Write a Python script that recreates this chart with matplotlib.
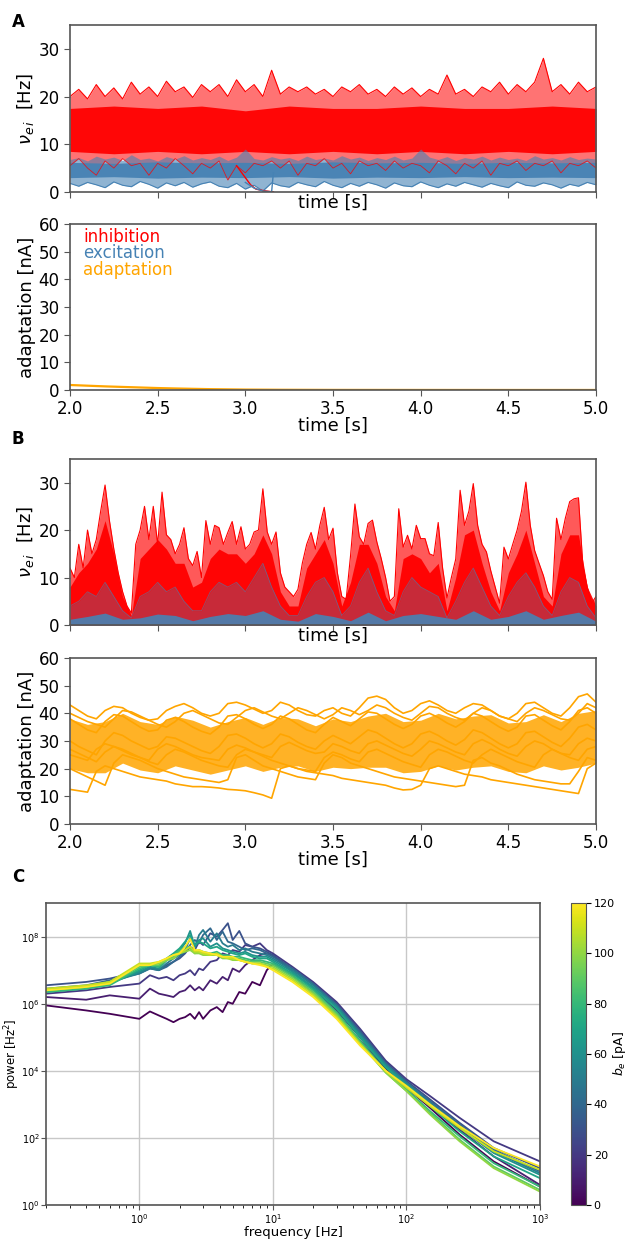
#!/usr/bin/env python
import numpy as np
import matplotlib
matplotlib.use('Agg')
import matplotlib.pyplot as plt
from matplotlib import cm, colors

plt.rcParams['font.family'] = ['DejaVu Sans']

RED = '#ff0000'
BLUE = '#4682b4'
ORANGE = '#ffa500'
SPINE = '#555555'

#---------------------------------- panel A, asynchronous state

tA = np.linspace(2.0, 5.0, 61)        # 0.05 s sampling
tA_q = np.linspace(2.0, 5.0, 13)      # 0.25 s sampling

a_red_max = [20, 21.5, 19.5, 22.5, 20, 21.8, 19.5, 23, 20.5, 22, 20, 23.2, 21, 22,
             19.8, 22.5, 21, 22.5, 20, 23.5, 21, 22.5, 20, 25.5, 20.5, 22, 21, 22,
             20.5, 21.5, 20, 22, 21, 22.5, 20.5, 21.5, 20, 22, 20.5, 21.8, 20, 21.5,
             20.5, 24.5, 20.5, 21.5, 20, 22, 21, 23, 20.5, 22.5, 21, 23, 28, 21, 22.5,
             20.5, 23, 21, 22]
a_red_min = [5.5, 7, 5, 3.5, 6.5, 5, 7, 5.5, 6, 3.5, 6, 5, 7, 5.5, 3.8, 6, 5, 6.5,
             2.5, 5.5, 4, 6, 5.5, 6.5, 5, 6.5, 3.5, 6, 5.5, 7, 5, 6, 3.8, 6.5, 5.5, 6,
             4.5, 6.5, 5, 6, 5.5, 4, 6.5, 5.5, 3.8, 6, 5, 6.5, 3.5, 6, 5.5, 6.5, 4.5,
             6, 5.5, 6.5, 4, 6, 5.5, 6.5, 5]
a_red_core_lo = [8.5, 8, 8.5, 8, 8.5, 8, 8.5, 8, 8.5, 8, 8.5, 8, 8.5]
a_red_core_hi = [17.5, 18, 17.5, 18, 17, 18, 17.5, 17.5, 18, 17.5, 17.5, 18, 17.5]

a_blue_max = [6.8, 7.2, 6.5, 7.5, 6.9, 7.3, 6.6, 7.8, 6.8, 7.1, 6.5, 7.4, 6.9, 7.6,
              6.7, 7.2, 6.8, 7.5, 6.6, 7.3, 9.0, 7.0, 6.7, 7.4, 6.9, 7.2, 6.6, 7.5,
              6.8, 7.1, 6.7, 7.6, 6.9, 7.3, 6.6, 7.2, 6.8, 7.5, 6.7, 7.1, 9.0, 7.3,
              6.8, 7.4, 6.6, 7.2, 6.9, 7.5, 6.7, 7.3, 6.8, 7.1, 6.6, 7.6, 6.9, 7.2,
              6.7, 7.4, 6.8, 7.1, 6.9]
a_blue_min = [1.8, 1.2, 2.0, 1.5, 0.9, 2.1, 1.4, 1.1, 2.2, 1.6, 0.8, 1.9, 1.3, 2.0,
              1.0, 1.7, 2.1, 1.2, 0.9, 1.8, 0.6, 1.4, 0.2, 1.9, 1.3, 1.0, 2.0, 1.5,
              1.1, 2.2, 1.4, 0.9, 1.8, 1.2, 2.0, 1.5, 0.8, 1.9, 1.3, 1.1, 2.1, 1.4,
              0.9, 1.7, 1.2, 2.0, 1.5, 1.0, 1.8, 1.3, 0.9, 2.1, 1.4, 1.2, 1.9, 1.5,
              0.8, 1.6, 1.2, 2.0, 1.5]
a_blue_core_lo = [3.0, 3.2, 2.9, 3.1, 3.0, 3.2, 2.9, 3.1, 3.0, 3.2, 3.0, 3.1, 3.0]
a_blue_core_hi = [6.2, 6.0, 6.3, 6.1, 6.2, 6.0, 6.3, 6.1, 6.2, 6.0, 6.2, 6.1, 6.2]

# the two traces that fall silent near t = 3.1 s
drop_red_t = [2.95, 3.00, 3.03, 3.06, 3.10, 3.14, 3.16]
drop_red_v = [5.5, 3.0, 1.5, 0.6, 0.3, 0.1, 0.0]
drop_blue_t = [3.00, 3.05, 3.10, 3.14, 3.15, 3.16]
drop_blue_v = [2.0, 0.8, 0.2, 0.05, 0.05, 4.0]

adapt_A_t = [2.0, 2.1, 2.2, 2.3, 2.4, 2.5, 2.6, 2.7, 2.8, 3.0, 3.2, 3.5, 4.0, 4.5, 5.0]
adapt_A_w = [1.8, 1.55, 1.3, 1.1, 0.9, 0.7, 0.55, 0.42, 0.3, 0.15, 0.08, 0.03, 0.01, 0, 0]

#---------------------------------- panel B, bursting state

tB_f = np.linspace(2.0, 5.0, 121)     # 0.025 s
tB_m = np.linspace(2.0, 5.0, 61)      # 0.05 s
tB_c = np.linspace(2.0, 5.0, 31)      # 0.1 s

b_red_max = [12, 10, 17, 12, 20, 15, 18, 24, 29.5, 22, 16, 11, 7, 4, 2.5, 17, 20, 25,
             18, 25, 17, 28, 19, 18, 15, 17, 20.5, 14, 12.5, 15.5, 10, 22, 17, 21,
             20.5, 17, 19.5, 21.8, 17, 20.7, 16, 17, 19.6, 20, 28.7, 19.6, 17, 19.6,
             11, 8, 7, 6, 7.5, 13, 17, 19.5, 16, 21, 24.8, 18, 20.4, 11, 6, 5.4, 14.6,
             25.5, 18.6, 17, 21.4, 22.1, 17.5, 14, 10, 5, 6, 24.5, 16.4, 18.9, 16, 21,
             18.2, 18.2, 15, 14.6, 21.6, 12, 5.7, 10, 13.9, 28.4, 21, 24, 29.8, 21, 17,
             15.4, 11.4, 8, 4.6, 16.4, 13.9, 17, 20, 24, 30.1, 21, 15.7, 13, 10.4, 7,
             5.4, 22.5, 18, 22.5, 26, 26.6, 26.8, 12.5, 8, 4.6, 6]
b_red_core = [8, 11, 13, 16, 22, 15, 6, 2, 14, 16, 18, 16, 13, 13, 8, 9, 14, 16, 15,
              15, 13, 15, 19, 15, 7, 4, 4, 12, 15, 18, 13, 4, 9, 17, 17, 13, 6, 3, 14,
              15, 14, 11, 13, 3, 10, 19, 20, 13, 7, 3, 11, 15, 20, 13, 6, 4, 15, 19, 19,
              8, 4]
b_blue_max = [4, 5, 7, 6, 9, 6, 3, 1.5, 6, 7, 9, 7, 8, 5, 3, 3, 7, 9, 8, 9, 7, 10, 13,
              8, 4, 2, 2, 6, 9, 10, 7, 2, 4, 9, 12, 7, 3, 2, 7, 10, 8, 7, 6, 1.5, 5, 9,
              12, 8, 4, 2, 6, 9, 11, 8, 4, 2, 7, 10, 9, 4, 1.5]
b_blue_core = [1.2, 1.8, 2.5, 1.2, 1.5, 2.3, 2.0, 0.9, 1.8, 2.4, 2.0, 3.0, 1.2, 0.8,
               2.4, 1.8, 0.9, 2.7, 0.9, 2.0, 2.4, 1.8, 1.2, 3.0, 1.2, 1.8, 3.0, 1.2,
               2.0, 2.7, 0.8]

adapt_B = {
    'top':  [43, 41, 39, 38, 41, 42.5, 42, 40, 38.5, 37.5, 38, 41, 42.5, 43.5, 42, 40,
             39, 40, 43.5, 44, 43, 41.5, 40, 41, 44, 43, 41, 39.5, 39, 41, 42, 40, 39,
             42, 45.5, 46.2, 45, 42, 40, 41, 43.5, 44.5, 43, 41, 40, 42, 43.5, 43, 41,
             39, 38, 40, 43.5, 44, 42, 40, 39, 42, 46, 47, 44],
    'upper2': [40, 38.5, 37, 36, 35, 38, 41, 40.5, 39, 37.5, 36, 35, 37, 40, 41, 39.5,
               38, 36.5, 36, 38.5, 41, 42, 40.5, 39, 38, 40, 42, 41, 39.5, 38, 39.5,
               42, 41, 39.5, 41, 43, 42, 40, 38.5, 37.5, 40, 42.5, 42, 40, 38.5, 37.5,
               40, 42, 41, 39, 38, 37, 40, 42, 41, 39.5, 38, 37.5, 40, 43.5, 42],
    'upper': [38, 36, 34, 33, 37, 39.5, 39, 37, 35, 33.5, 34, 37.5, 38.5, 37, 35, 33.5,
              32.5, 35, 39, 39.5, 38, 36, 34.5, 36, 39, 38, 36, 34, 33, 36, 38.5, 37,
              35.5, 38, 40.5, 40, 38, 36, 34.5, 36, 39, 40, 38.5, 36.5, 35, 37, 40, 39,
              37, 35, 33.5, 35, 39, 39.5, 37.5, 35.5, 34, 37, 41, 42, 40],
    'mid':  [30, 28, 26.5, 25, 30, 33, 32, 30, 28.5, 27, 28, 31.5, 31, 29.5, 28, 26.5,
             25.5, 28, 32, 32.5, 31, 29, 27.5, 29, 32.5, 31.5, 29.5, 28, 27, 30, 32,
             30.5, 29, 31.5, 34, 33, 31, 29, 27.5, 29, 32.5, 33.5, 32, 30, 28.5, 30.5,
             34, 33, 31, 29, 27.5, 29, 33, 33.5, 31.5, 29.5, 28, 31, 35, 36, 34],
    'shift': [25, 24, 23, 27, 29, 28, 26.5, 25, 24, 23, 27, 29, 28, 26.5, 25, 24, 23.5,
              23, 27, 28.5, 27.5, 26, 25, 24, 28, 29.5, 28, 26.5, 25.5, 26, 29, 28,
              26.5, 25.5, 29, 30, 28.5, 27, 25.5, 24.5, 27, 30, 29, 27.5, 26, 25, 29,
              30.5, 29, 27, 25.5, 24.5, 28, 30, 29, 27, 25.5, 25, 29, 31, 30],
    'low2': [27, 25.5, 24, 22.5, 26, 28, 27, 25.5, 24, 22.5, 21.5, 25, 27, 26, 24.5, 23,
             22, 21, 20.5, 25, 27, 26, 24.5, 23, 22, 21, 20, 19.5, 19, 24, 26, 25, 23.5,
             22.5, 26, 27, 25.5, 24, 22.5, 21.5, 20.5, 25, 27, 26, 24.5, 23, 22, 25, 27,
             25.5, 24, 22.5, 21.5, 20.5, 25, 27, 25.5, 24, 23, 27, 28],
    'low':  [20, 18.5, 17, 15.5, 14, 22, 25, 24, 23, 21.5, 20, 19, 18, 17, 16.5, 16,
             15.5, 15, 16, 24, 25, 23, 21, 20, 19, 18, 17, 16.5, 16, 22, 25, 24, 22,
             21, 20, 19, 18, 17, 16.5, 16, 15.5, 15, 14.5, 14, 13.5, 14, 23, 24, 22,
             21, 19.5, 18, 17, 16, 15.5, 15, 14.5, 14.5, 19, 24, 23],
    'bottom': [12.5, 12, 11.5, 19, 21, 20, 19, 18, 17, 16.5, 16, 15.5, 14.5, 14, 13.5,
               13.5, 13.3, 13, 12.5, 12.3, 12, 11.3, 10.5, 9.3, 20, 21, 20, 19, 18.5,
               18, 17.5, 16.5, 16, 15.5, 15, 14.5, 14, 13, 12.3, 12.5, 14, 20, 21, 20,
               19, 18, 17.5, 17, 16, 15.5, 15, 14.5, 14, 13.5, 13, 12.5, 12, 11.5, 11,
               20, 22],
}
adapt_B_core_lo = [20, 18.5, 18.5, 22, 19.5, 18.5, 21, 19.5, 18, 19.5, 21, 19, 20.5,
                   21, 19, 20.5, 20, 20.5, 20.5, 18.5, 19, 21, 19.5, 20.5, 21, 19, 18.5,
                   21, 19.5, 20.5, 22]
adapt_B_core_hi = [38, 36, 37, 40, 37, 36, 39, 37.5, 35, 37, 38.5, 36, 38.5, 38, 35.5,
                   38, 37, 39, 40, 37, 37.5, 40, 38, 39, 39.5, 36.5, 37, 39.5, 37, 40, 41]

#---------------------------------- panel C, power spectra (log10 power)

freq = [0.2, 0.4, 0.6, 1.0, 1.2, 1.4, 1.6, 1.8, 2.0, 2.2, 2.4, 2.6, 2.8, 3.0, 3.4,
        3.8, 4.2, 4.6, 5.0, 5.6, 6.2, 7.0, 8.0, 9.0, 10, 14, 20, 30, 45, 70, 100,
        150, 250, 450, 1000]
b_e = [0, 10, 20, 30, 40, 50, 60, 70, 80, 90, 100, 110, 120]
log_power = [
    [5.95, 5.8, 5.7, 5.55, 5.77, 5.65, 5.55, 5.45, 5.55, 5.6, 5.7, 5.55, 5.75, 5.55,
     5.8, 5.9, 5.75, 6.05, 6.0, 6.35, 6.3, 6.65, 6.55, 7.0, 7.2, 6.85, 6.3, 5.65,
     4.9, 4.05, 3.5, 2.9, 2.1, 1.3, 0.55],
    [6.2, 6.12, 6.25, 6.15, 6.45, 6.3, 6.25, 6.2, 6.35, 6.4, 6.55, 6.4, 6.5, 6.4,
     6.7, 6.6, 6.8, 6.7, 7.05, 6.95, 7.15, 7.3, 7.45, 7.5, 7.45, 6.95, 6.45, 5.8,
     5.0, 4.1, 3.55, 3.0, 2.25, 1.45, 0.6],
    [6.3, 6.4, 6.5, 6.6, 6.85, 6.75, 6.8, 6.7, 6.85, 6.9, 7.0, 6.85, 7.05, 7.0, 7.25,
     7.3, 7.5, 7.45, 7.6, 7.55, 7.75, 7.7, 7.8, 7.6, 7.5, 7.1, 6.65, 6.05, 5.25, 4.3,
     3.75, 3.25, 2.6, 1.9, 1.3],
    [6.55, 6.65, 6.75, 6.95, 7.1, 7.0, 7.15, 7.25, 7.35, 7.5, 7.7, 7.6, 7.85, 7.75,
     8.1, 8.0, 8.2, 8.4, 7.9, 8.17, 7.8, 7.7, 7.65, 7.55, 7.45, 7.05, 6.6, 6.0, 5.2,
     4.25, 3.7, 3.15, 2.45, 1.7, 1.1],
    [6.45, 6.55, 6.7, 6.9, 7.05, 7.0, 7.1, 7.25, 7.4, 7.55, 7.75, 7.9, 7.8, 8.05,
     8.25, 7.9, 8.15, 7.85, 7.8, 7.7, 7.6, 7.65, 7.6, 7.5, 7.4, 7.05, 6.6, 5.95, 5.15,
     4.2, 3.65, 3.1, 2.4, 1.65, 1.0],
    [6.4, 6.5, 6.65, 6.9, 7.05, 7.0, 7.2, 7.35, 7.45, 7.6, 7.95, 7.7, 8.05, 8.2,
     7.85, 8.1, 7.8, 7.7, 7.75, 7.6, 7.65, 7.55, 7.5, 7.45, 7.35, 7.0, 6.55, 5.95,
     5.1, 4.2, 3.65, 3.05, 2.35, 1.6, 0.95],
    [6.35, 6.45, 6.6, 6.95, 7.1, 7.05, 7.3, 7.45, 7.6, 7.8, 8.17, 7.7, 7.9, 7.95,
     7.7, 7.8, 7.65, 7.6, 7.55, 7.5, 7.55, 7.45, 7.4, 7.4, 7.3, 6.95, 6.5, 5.9, 5.05,
     4.15, 3.6, 3.0, 2.3, 1.55, 0.9],
    [6.4, 6.5, 6.6, 7.0, 7.15, 7.1, 7.35, 7.5, 7.65, 7.85, 8.05, 7.75, 7.85, 7.8,
     7.65, 7.7, 7.6, 7.55, 7.5, 7.45, 7.5, 7.4, 7.35, 7.35, 7.25, 6.9, 6.45, 5.85,
     5.0, 4.1, 3.55, 2.95, 2.2, 1.45, 0.8],
    [6.35, 6.45, 6.55, 7.05, 7.15, 7.1, 7.3, 7.45, 7.6, 7.7, 7.65, 7.55, 7.6, 7.55,
     7.5, 7.55, 7.45, 7.45, 7.4, 7.4, 7.35, 7.3, 7.3, 7.25, 7.2, 6.85, 6.4, 5.75, 4.9,
     4.0, 3.45, 2.8, 2.05, 1.25, 0.55],
    [6.4, 6.5, 6.6, 7.1, 7.15, 7.15, 7.3, 7.4, 7.55, 7.6, 7.7, 7.5, 7.55, 7.5, 7.45,
     7.5, 7.4, 7.4, 7.35, 7.35, 7.3, 7.25, 7.25, 7.2, 7.15, 6.8, 6.35, 5.7, 4.85,
     3.95, 3.4, 2.75, 1.95, 1.15, 0.45],
    [6.4, 6.5, 6.65, 7.15, 7.15, 7.2, 7.3, 7.35, 7.5, 7.55, 7.6, 7.5, 7.5, 7.45, 7.45,
     7.45, 7.35, 7.35, 7.3, 7.3, 7.25, 7.2, 7.2, 7.15, 7.1, 6.75, 6.3, 5.65, 4.8,
     3.95, 3.4, 2.7, 1.9, 1.1, 0.4],
    [6.45, 6.55, 6.65, 7.2, 7.2, 7.25, 7.35, 7.45, 7.5, 7.6, 7.7, 7.55, 7.55, 7.5,
     7.45, 7.5, 7.4, 7.35, 7.35, 7.3, 7.25, 7.2, 7.2, 7.1, 7.05, 6.7, 6.25, 5.6, 4.8,
     4.0, 3.5, 2.95, 2.3, 1.6, 1.05],
    [6.4, 6.5, 6.6, 7.15, 7.15, 7.25, 7.35, 7.45, 7.5, 7.7, 7.93, 7.6, 7.6, 7.55, 7.5,
     7.45, 7.4, 7.4, 7.4, 7.3, 7.25, 7.2, 7.15, 7.1, 7.0, 6.65, 6.2, 5.55, 4.75, 4.0,
     3.55, 3.0, 2.35, 1.7, 1.15],
]


def style_axes(ax, size=12):
    for s in ax.spines.values():
        s.set_color(SPINE)
        s.set_linewidth(1.2)
    ax.tick_params(colors='black', labelsize=size, length=4, color=SPINE)


fig = plt.figure(figsize=(6.26, 12.4), dpi=100)
xt = [2.0, 2.5, 3.0, 3.5, 4.0, 4.5, 5.0]

#---------------------------------- A top
ax = fig.add_axes([0.1118, 0.8452, 0.8403, 0.1347])
ax.fill_between(tA, a_red_min, a_red_max, color=RED, alpha=0.55, lw=0)
ax.fill_between(tA_q, a_red_core_lo, a_red_core_hi, color=RED, alpha=0.95, lw=0)
ax.plot(tA, a_red_max, color=RED, lw=0.8)
ax.fill_between(tA, a_blue_min, a_blue_max, color=BLUE, alpha=0.6, lw=0)
ax.fill_between(tA_q, a_blue_core_lo, a_blue_core_hi, color=BLUE, alpha=0.95, lw=0)
ax.plot(tA, a_blue_min, color=BLUE, lw=0.8)
ax.plot(tA, a_red_min, color=RED, lw=0.6, alpha=0.8)
ax.plot(drop_red_t, drop_red_v, color=RED, lw=1.0)
ax.plot(drop_blue_t, drop_blue_v, color=BLUE, lw=1.0)
ax.set_xlim(2, 5)
ax.set_ylim(0, 35)
ax.set_yticks([0, 10, 20, 30])
ax.set_xticks(xt)
ax.tick_params(labelbottom=False)
ax.set_ylabel(r'$\nu_{e\,i}$  [Hz]', fontsize=13, labelpad=2)
ax.set_xlabel('time [s]', fontsize=13, labelpad=-3)
style_axes(ax)
fig.text(0.019, 0.982, 'A', fontsize=12, fontweight='bold', va='center')

#---------------------------------- A bottom
ax = fig.add_axes([0.1118, 0.6855, 0.8403, 0.1339])
ax.plot(adapt_A_t, adapt_A_w, color=ORANGE, lw=1.6)
ax.set_xlim(2, 5)
ax.set_ylim(0, 60)
ax.set_yticks(range(0, 61, 10))
ax.set_xticks(xt)
ax.set_ylabel('adaptation [nA]', fontsize=13, labelpad=2)
ax.set_xlabel('time [s]', fontsize=13, labelpad=-1)
ax.text(2.074, 55.4, 'inhibition', color=RED, fontsize=12, va='center')
ax.text(2.074, 49.4, 'excitation', color=BLUE, fontsize=12, va='center')
ax.text(2.074, 43.4, 'adaptation', color=ORANGE, fontsize=12, va='center')
style_axes(ax)

#---------------------------------- B top
ax = fig.add_axes([0.1118, 0.4960, 0.8403, 0.1339])
ax.fill_between(tB_f, 0, b_red_max, color=RED, alpha=0.65, lw=0)
ax.fill_between(tB_m, 0, b_red_core, color=RED, alpha=0.95, lw=0)
ax.plot(tB_f, b_red_max, color=RED, lw=0.8)
ax.fill_between(tB_m, 0, b_blue_max, color=BLUE, alpha=0.3, lw=0)
ax.plot(tB_m, b_blue_max, color=BLUE, lw=0.6, alpha=0.6)
ax.fill_between(tB_c, 0, b_blue_core, color=BLUE, alpha=0.9, lw=0)
ax.set_xlim(2, 5)
ax.set_ylim(0, 35)
ax.set_yticks([0, 10, 20, 30])
ax.set_xticks(xt)
ax.tick_params(labelbottom=False)
ax.set_ylabel(r'$\nu_{e\,i}$  [Hz]', fontsize=13, labelpad=2)
ax.set_xlabel('time [s]', fontsize=13, labelpad=-3)
style_axes(ax)
fig.text(0.019, 0.646, 'B', fontsize=12, fontweight='bold', va='center')

#---------------------------------- B bottom
ax = fig.add_axes([0.1118, 0.3355, 0.8403, 0.1339])
ax.fill_between(tB_c, adapt_B_core_lo, adapt_B_core_hi, color=ORANGE, alpha=0.85, lw=0)
for name, trace in adapt_B.items():
    ax.plot(tB_m, trace, color=ORANGE, lw=1.2)
ax.set_xlim(2, 5)
ax.set_ylim(0, 60)
ax.set_yticks(range(0, 61, 10))
ax.set_xticks(xt)
ax.set_ylabel('adaptation [nA]', fontsize=13, labelpad=2)
ax.set_xlabel('time [s]', fontsize=13, labelpad=-1)
style_axes(ax)
fig.text(0.019, 0.2927, 'C', fontsize=12, fontweight='bold', va='center')

#---------------------------------- C
ax = fig.add_axes([0.0735, 0.0282, 0.7891, 0.2435])
norm = colors.Normalize(vmin=0, vmax=120)
cmap = plt.get_cmap('viridis')
for b, lp in zip(b_e, log_power):
    ax.plot(freq, 10.0 ** np.asarray(lp), color=cmap(norm(b)), lw=1.3)
ax.set_xscale('log')
ax.set_yscale('log')
ax.set_xlim(0.2, 1000)
ax.set_ylim(1, 1e9)
ax.set_yticks([1e0, 1e2, 1e4, 1e6, 1e8])
ax.yaxis.set_minor_locator(matplotlib.ticker.NullLocator())
ax.grid(True, which='major', color='#c8c8c8', lw=1)
ax.set_axisbelow(True)
ax.set_xlabel('frequency [Hz]', fontsize=9.5, labelpad=0)
ax.set_ylabel(r'power [Hz$^2$]', fontsize=8.5)
ax.yaxis.set_label_coords(-0.048, 0.5)
for s in ax.spines.values():
    s.set_color(SPINE)
    s.set_linewidth(1.2)
ax.tick_params(axis='x', labelsize=7, color=SPINE, pad=2)
ax.tick_params(axis='y', labelsize=7, color=SPINE, pad=1)

cax = fig.add_axes([0.9121, 0.0282, 0.024, 0.2435])
sm = cm.ScalarMappable(norm=norm, cmap=cmap)
cb = fig.colorbar(sm, cax=cax, ticks=range(0, 121, 20))
cb.set_label(r'$b_e$ [pA]', fontsize=9)
cb.ax.yaxis.set_label_coords(2.65, 0.5)
cb.ax.tick_params(labelsize=8, pad=2)
cb.outline.set_edgecolor(SPINE)

fig.savefig('out.png', dpi=100)
